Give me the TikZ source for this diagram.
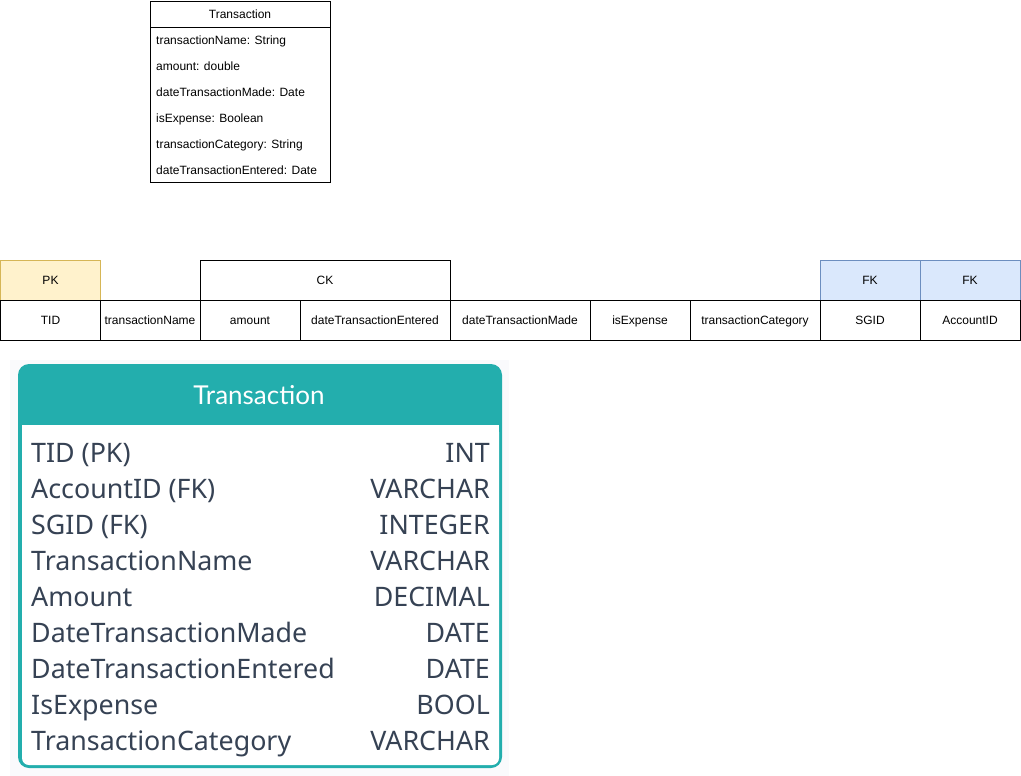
\documentclass[tikz,border=0pt]{standalone}
\usepackage{fontspec}
\setmainfont{Liberation Sans}
\newfontfamily\rowfont{Noto Sans}
\newfontfamily\headfont{Lato}
\definecolor{pkfill}{HTML}{FFF2CC}
\definecolor{pkline}{HTML}{D6B656}
\definecolor{fkfill}{HTML}{DAE8FC}
\definecolor{fkline}{HTML}{6C8EBF}
\definecolor{teal}{HTML}{23AEAD}
\definecolor{rowtext}{HTML}{364254}
\definecolor{faint}{HTML}{FAFAFC}
\begin{document}
\begin{tikzpicture}[x=1pt,y=-1pt,
  small/.style={font=\fontsize{12}{14}\selectfont,text height=8.6pt,text depth=0pt},
  cell/.style={small,draw=black,line width=0.8pt,minimum height=40pt,inner sep=0pt},
  pkcell/.style={cell,draw=pkline,fill=pkfill},
  fkcell/.style={cell,draw=fkline,fill=fkfill},
  umltext/.style={small,anchor=west,inner sep=0pt},
  big/.style={inner sep=0pt,text=rowtext,font=\rowfont\fontsize{26.8}{30}\selectfont,text height=19.2pt,text depth=0pt},
  rowl/.style={big,anchor=west},
  rowr/.style={big,anchor=east}]
\useasboundingbox (0,0) rectangle (1021,776);
% UML class
\node[draw=black,line width=0.8pt,minimum width=180pt,minimum height=181pt,anchor=north west,inner sep=0pt] (cls) at (150,1) {};
\draw[line width=0.8pt] (150,27) -- (330,27);
\node[small,inner sep=0pt] (clsname) at (240,14) {Transaction};
\node[umltext] (a1) at (156,40) {transactionName: String};
\node[umltext] (a2) at (156,66) {amount: double};
\node[umltext] (a3) at (156,92) {dateTransactionMade: Date};
\node[umltext] (a4) at (156,118) {isExpense: Boolean};
\node[umltext] (a5) at (156,144) {transactionCategory: String};
\node[umltext] (a6) at (156,170) {dateTransactionEntered: Date};
% relational row
\node[pkcell,minimum width=100pt] (pk) at (50.5,280) {PK};
\node[cell,minimum width=250pt] (ck) at (325,280) {CK};
\node[fkcell,minimum width=100pt] (fk1) at (870,280) {FK};
\node[fkcell,minimum width=100pt] (fk2) at (970,280) {FK};
\node[cell,minimum width=100pt] (c1) at (50.5,320) {TID};
\node[cell,minimum width=100pt] (c2) at (150,320) {transactionName};
\node[cell,minimum width=100pt] (c3) at (250,320) {amount};
\node[cell,minimum width=150pt] (c4) at (375,320) {dateTransactionEntered};
\node[cell,minimum width=140pt] (c5) at (520,320) {dateTransactionMade};
\node[cell,minimum width=100pt] (c6) at (640,320) {isExpense};
\node[cell,minimum width=130pt] (c7) at (755,320) {transactionCategory};
\node[cell,minimum width=100pt] (c8) at (870,320) {SGID};
\node[cell,minimum width=100pt] (c9) at (970,320) {AccountID};
% ER table
\fill[faint] (10,360) rectangle (509,776);
\fill[teal,rounded corners=11pt] (18,364) rectangle (502,768);
\fill[white,rounded corners=7pt] (22,425) rectangle (499,765);
\fill[white] (22,425) rectangle (499,440);
\node[text=white,inner sep=0pt,font=\headfont\fontsize{26}{30}\selectfont,text height=18.5pt,text depth=0pt] (title) at (259,395) {Transaction};
\node[rowl] (r1) at (31,453) {TID (PK)};
\node[rowr] (t1) at (490,453) {INT};
\node[rowl] (r2) at (31,489) {AccountID (FK)};
\node[rowr] (t2) at (490,489) {VARCHAR};
\node[rowl] (r3) at (31,525) {SGID (FK)};
\node[rowr] (t3) at (490,525) {INTEGER};
\node[rowl] (r4) at (31,561) {TransactionName};
\node[rowr] (t4) at (490,561) {VARCHAR};
\node[rowl] (r5) at (31,597) {Amount};
\node[rowr] (t5) at (490,597) {DECIMAL};
\node[rowl] (r6) at (31,633) {DateTransactionMade};
\node[rowr] (t6) at (490,633) {DATE};
\node[rowl] (r7) at (31,669) {DateTransactionEntered};
\node[rowr] (t7) at (490,669) {DATE};
\node[rowl] (r8) at (31,705) {IsExpense};
\node[rowr] (t8) at (490,705) {BOOL};
\node[rowl] (r9) at (31,741) {TransactionCategory};
\node[rowr] (t9) at (490,741) {VARCHAR};
\end{tikzpicture}
\end{document}
